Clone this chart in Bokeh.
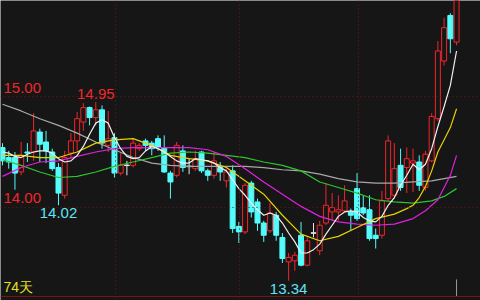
from bokeh.plotting import figure
from bokeh.models import Range1d, Span, Label, ColumnDataSource
from bokeh.embed import file_html
from bokeh.resources import INLINE

# ---------------- data ----------------
days = list(range(74))
opens = [14.54, 14.45, 14.45, 14.32, 14.50, 14.50, 14.68, 14.59, 14.50, 14.36,
         14.11, 14.49, 14.60, 14.77, 14.90, 14.81, 14.88, 14.56, 14.63, 14.31,
         14.38, 14.38, 14.53, 14.60, 14.58, 14.62, 14.54, 14.31, 14.29, 14.51,
         14.37, 14.35, 14.50, 14.33, 14.29, 14.36, 14.24, 14.33, 13.83, 13.78,
         14.22, 14.05, 13.86, 13.79, 13.93, 13.73, 13.51, 13.52, 13.75, 13.48,
         13.77, 13.61, 13.86, 13.96, 13.96, 13.97, 13.96, 14.17, 14.00, 13.98,
         13.75, 13.75, 14.08, 14.11, 14.38, 14.36, 14.40, 14.41, 14.18, 14.42,
         14.80, 15.32, 15.73, 15.49]
highs = [14.58, 14.51, 14.50, 14.59, 14.58, 14.85, 14.71, 14.69, 14.53, 14.40,
         14.51, 14.67, 14.86, 14.94, 14.91, 14.95, 14.92, 14.87, 14.67, 14.49,
         14.42, 14.62, 14.58, 14.62, 14.60, 14.65, 14.65, 14.33, 14.59, 14.56,
         14.44, 14.51, 14.51, 14.35, 14.50, 14.41, 14.35, 14.38, 13.87, 14.22,
         14.24, 14.08, 13.88, 14.04, 13.96, 13.77, 13.59, 13.60, 13.87, 13.73,
         13.86, 13.88, 14.22, 14.13, 14.11, 14.20, 13.99, 14.31, 14.11, 14.11,
         13.81, 14.15, 14.65, 14.58, 14.53, 14.54, 14.53, 14.47, 14.51, 14.85,
         15.50, 15.71, 15.75, 16.02]
lows = [14.38, 14.35, 14.16, 14.29, 14.41, 14.42, 14.41, 14.40, 14.33, 14.02,
        14.08, 14.44, 14.51, 14.69, 14.74, 14.74, 14.53, 14.50, 14.27, 14.29,
        14.29, 14.36, 14.51, 14.51, 14.47, 14.51, 14.31, 14.08, 14.27, 14.32,
        14.30, 14.33, 14.31, 14.24, 14.26, 14.24, 14.18, 13.77, 13.68, 13.76,
        13.91, 13.79, 13.69, 13.77, 13.70, 13.50, 13.34, 13.43, 13.47, 13.47,
        13.73, 13.57, 13.84, 13.88, 13.88, 13.96, 13.79, 13.88, 13.93, 13.70,
        13.63, 13.72, 14.06, 14.08, 14.15, 14.13, 14.14, 14.15, 14.15, 14.41,
        14.78, 15.28, 15.39, 15.46]
closes = [14.42, 14.41, 14.31, 14.47, 14.49, 14.69, 14.57, 14.51, 14.35, 14.13,
          14.45, 14.60, 14.80, 14.90, 14.81, 14.88, 14.58, 14.62, 14.31, 14.38,
          14.38, 14.58, 14.56, 14.56, 14.53, 14.54, 14.32, 14.23, 14.56, 14.36,
          14.37, 14.44, 14.33, 14.29, 14.42, 14.32, 14.32, 13.81, 13.78, 14.20,
          13.96, 13.86, 13.75, 13.95, 13.75, 13.54, 13.55, 13.57, 13.48, 13.70,
          13.77, 13.84, 14.02, 14.00, 13.98, 14.06, 13.93, 13.90, 13.95, 13.72,
          13.72, 14.06, 14.60, 14.35, 14.18, 14.44, 14.42, 14.20, 14.48, 14.82,
          15.41, 15.62, 15.52, 15.95]

ma5_vals = [14.50, 14.49, 14.46, 14.45, 14.48, 14.50, 14.51, 14.51, 14.49, 14.44,
            14.41, 14.42, 14.47, 14.55, 14.66, 14.76, 14.79, 14.76, 14.63, 14.53,
            14.46, 14.44, 14.45, 14.51, 14.55, 14.53, 14.50, 14.46, 14.42, 14.40,
            14.40, 14.44, 14.43, 14.42, 14.40, 14.36, 14.33, 14.25, 14.17, 14.11,
            14.04, 13.98, 13.93, 13.95, 13.93, 13.86, 13.77, 13.69, 13.59, 13.59,
            13.62, 13.67, 13.76, 13.84, 13.92, 13.96, 13.97, 13.96, 13.91, 13.88,
            13.87, 13.92, 14.02, 14.09, 14.20, 14.29, 14.39, 14.34, 14.39, 14.53,
            14.73, 14.91, 15.10, 15.41]

ma10_days = [0, 3, 6, 9, 12, 15, 18, 21, 24, 27, 30, 33, 36, 39, 42, 45, 48, 51,
             54, 57, 60, 63, 65, 66, 67, 68, 69, 70, 71, 72, 73]
ma10_vals = [14.47, 14.47, 14.45, 14.45, 14.50, 14.58, 14.61, 14.62, 14.56, 14.47,
             14.44, 14.42, 14.36, 14.24, 14.12, 13.93, 13.76, 13.70, 13.74, 13.82,
             13.90, 13.94, 13.99, 14.02, 14.09, 14.19, 14.33, 14.50, 14.61, 14.72,
             14.89]

ma20_days = [0, 3, 6, 9, 12, 15, 18, 21, 24, 27, 30, 33, 36, 39, 42, 45, 48, 51,
             54, 57, 60, 63, 66, 68, 70, 72, 73]
ma20_vals = [14.28, 14.36, 14.41, 14.42, 14.46, 14.50, 14.53, 14.54, 14.54, 14.54,
             14.54, 14.52, 14.46, 14.35, 14.23, 14.12, 14.01, 13.92, 13.87, 13.85,
             13.84, 13.85, 13.90, 13.97, 14.07, 14.29, 14.47]

ma60_days = [0, 3, 6, 9, 12, 15, 18, 21, 24, 27, 30, 33, 36, 39, 42, 45, 48, 51,
             54, 57, 60, 63, 66, 69, 71, 73]
ma60_vals = [14.43, 14.38, 14.32, 14.27, 14.28, 14.32, 14.37, 14.41, 14.45, 14.49,
             14.50, 14.49, 14.47, 14.45, 14.41, 14.38, 14.33, 14.23, 14.18, 14.13,
             14.07, 14.05, 14.04, 14.06, 14.10, 14.17]

ma120_days = [0, 3, 6, 9, 12, 15, 18, 21, 24, 27, 30, 33, 36, 39, 42, 45, 48, 51,
              54, 57, 60, 63, 66, 69, 71, 73]
ma120_vals = [14.93, 14.87, 14.80, 14.74, 14.67, 14.59, 14.52, 14.45, 14.40, 14.38,
              14.37, 14.37, 14.37, 14.37, 14.36, 14.34, 14.33, 14.30, 14.26, 14.23,
              14.22, 14.22, 14.23, 14.24, 14.26, 14.28]

grid_prices = [15.00, 14.00]
high_mark_day = 15
low_mark_days = [9, 46]
day_count_text = "74天"

# ---------------- styles ----------------
BG = "#161616"
RED = "#f0262a"
CYAN = "#54fcfc"
LABEL_CYAN = "#5fe4f2"
DOJI = "#e6e6e6"
GRID = "#6e1616"

up_i = [i for i in days if closes[i] > opens[i]]
dn_i = [i for i in days if closes[i] < opens[i]]
dj_i = [i for i in days if closes[i] == opens[i]]

def sub(idx):
    return ColumnDataSource(dict(
        x=[days[i] for i in idx],
        top=[max(opens[i], closes[i]) for i in idx],
        bottom=[min(opens[i], closes[i]) for i in idx],
        high=[highs[i] for i in idx],
        low=[lows[i] for i in idx],
        mid=[opens[i] for i in idx],
    ))

X0, X1 = -0.3215, 76.85
Y0, Y1 = 13.162, 15.865
SEP = 13.198  # level of the bottom separator line

p = figure(width=480, height=300, output_backend="svg", toolbar_location=None,
           x_range=Range1d(X0, X1), y_range=Range1d(Y0, Y1),
           x_axis_location=None, y_axis_location=None, min_border=0,
           background_fill_color=BG, border_fill_color=BG, outline_line_color=None)
p.grid.visible = False

# grid
for gp in grid_prices:
    p.add_layout(Span(location=gp, dimension="width", line_color=GRID,
                      line_dash="1 3", line_width=1))
for frac in (115 / 480, 239 / 480, 358 / 480):
    p.add_layout(Span(location=X0 + frac * (X1 - X0), dimension="height",
                      line_color=GRID, line_dash="1 3", line_width=1))

# candles
W = 0.8
s_up, s_dn, s_dj = sub(up_i), sub(dn_i), sub(dj_i)
p.segment(x0="x", y0="low", x1="x", y1="high", source=s_up, line_color=RED, line_width=1)
p.segment(x0="x", y0="low", x1="x", y1="high", source=s_dn, line_color=CYAN, line_width=1)
p.segment(x0="x", y0="low", x1="x", y1="high", source=s_dj, line_color=DOJI, line_width=1)
p.vbar(x="x", top="top", bottom="bottom", width=W, source=s_up,
       fill_color=BG, line_color=RED, line_width=1)
p.vbar(x="x", top="top", bottom="bottom", width=W, source=s_dn,
       fill_color=CYAN, line_color=CYAN, line_width=1)
p.rect(x="x", y="mid", width=W, height=0.004, source=s_dj,
       fill_color=DOJI, line_color=DOJI)

# moving averages
p.line(ma120_days, ma120_vals, line_color="#a8a8a8", line_width=1.2)
p.line(ma60_days, ma60_vals, line_color="#2fc42f", line_width=1.2)
p.line(ma20_days, ma20_vals, line_color="#e020e0", line_width=1.2)
p.line(ma10_days, ma10_vals, line_color="#e6d200", line_width=1.2)
p.line(days, ma5_vals, line_color="#f0f0f0", line_width=1.2)

# bottom separator and cursor
p.add_layout(Span(location=SEP, dimension="width", line_color="#7a1414", line_width=1))
p.segment(x0=[days[-1]], y0=[SEP], x1=[days[-1]], y1=[13.352],
          line_color="#9a9a9a", line_width=1)

FONT = "Liberation Sans"
for gp, off in zip(grid_prices, (8.5, 9.5)):
    p.add_layout(Label(x=3, x_units="screen", y=gp, text=f"{gp:.2f}", y_offset=off,
                       text_color=RED, text_font=FONT, text_font_size="15px",
                       text_baseline="middle", text_align="left"))
p.add_layout(Label(x=days[high_mark_day], y=highs[high_mark_day],
                   text=f"{highs[high_mark_day]:.2f}", y_offset=8,
                   text_color=RED, text_font=FONT, text_font_size="15px",
                   text_baseline="middle", text_align="center"))
for d in low_mark_days:
    p.add_layout(Label(x=days[d], y=lows[d], text=f"{lows[d]:.2f}", y_offset=-3,
                       text_color=LABEL_CYAN, text_font=FONT, text_font_size="15px",
                       text_baseline="top", text_align="center"))
p.add_layout(Label(x=3, x_units="screen", y=SEP, text=day_count_text, y_offset=9.5,
                   text_color="#e8e020", text_font=FONT, text_font_size="14px",
                   text_baseline="middle", text_align="left"))

open("out.html", "w").write(file_html(p, INLINE))
